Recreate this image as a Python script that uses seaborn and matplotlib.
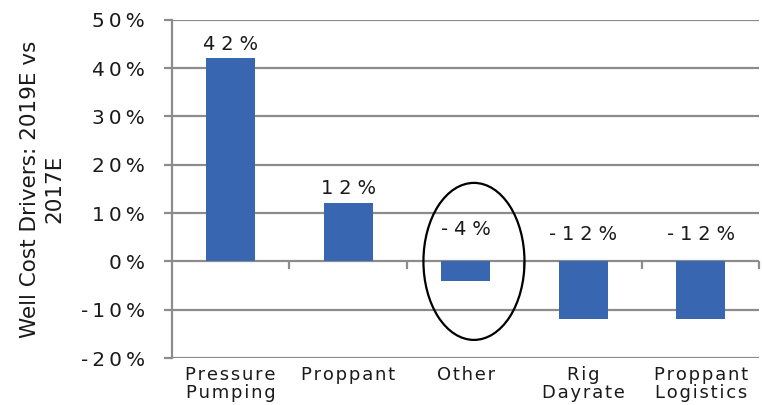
import matplotlib
matplotlib.use("Agg")
import matplotlib.pyplot as plt
from matplotlib.patches import Ellipse
from matplotlib.ticker import FuncFormatter
import seaborn as sns
import pandas as pd

categories = ["Pressure\nPumping", "Proppant", "Other", "Rig\nDayrate", "Proppant\nLogistics"]
changes = [42, 12, -4, -12, -12]
y_ticks = [-20, -10, 0, 10, 20, 30, 40, 50]

sns.set_theme(style="white")
plt.rcParams["font.family"] = ["DejaVu Sans"]

GRID = "#8c8c8c"
BAR = "#3966b1"
INK = "#1a1a1a"
HAIR = "\u200a"
THIN = "\u2009"
DPI = 100


def tracked(s, gap=HAIR):
    """Spread the characters of each line a little apart."""
    return "\n".join(gap.join(line) for line in s.split("\n"))


df = pd.DataFrame({"driver": [tracked(c) for c in categories], "change": changes})

fig = plt.figure(figsize=(7.62, 4.05), dpi=DPI)
ax = fig.add_axes([0.2257, 0.116, 0.771, 0.835])

sns.barplot(data=df, x="driver", y="change", color=BAR, saturation=1,
            width=0.415, linewidth=0, ax=ax, zorder=3)

ax.set_ylim(-20, 50)
ax.set_xlim(-0.5, len(categories) - 0.5)
ax.set_yticks(y_ticks)
ax.yaxis.set_major_formatter(FuncFormatter(lambda v, _: tracked(f"{v:.0f}%", THIN)))
ax.grid(axis="y", color=GRID, linewidth=1.6, zorder=0)
ax.set_axisbelow(True)

for side in ["top", "right", "bottom"]:
    ax.spines[side].set_visible(False)
ax.spines["left"].set_color(GRID)
ax.spines["left"].set_linewidth(1.6)

ax.tick_params(axis="y", which="major", direction="out", length=6, width=1.6,
               color=GRID, labelsize=14.5, labelcolor=INK, pad=13.5, left=True)
ax.tick_params(axis="x", length=0, labelsize=13, labelcolor=INK, pad=6)
for lbl in ax.get_xticklabels():
    lbl.set_verticalalignment("top")
    lbl.set_linespacing(0.95)

ax.set_xlabel("")
ax.set_ylabel("Well Cost Drivers: 2019E vs\n2017E", fontsize=15.5,
              color=INK, linespacing=1.25, va="center", ha="center")
ax.yaxis.set_label_coords(-0.221, 0.5)

# category separators on the zero line
zero_axis = ax.secondary_xaxis(20 / 70)
zero_axis.set_xticks([i + 0.5 for i in range(len(categories))])
zero_axis.tick_params(direction="out", length=6, width=1.6, color=GRID,
                      labelbottom=False, bottom=True)
zero_axis.spines["bottom"].set_visible(False)

# value labels: above positive bars, above the zero line for negative ones
for i, v in enumerate(changes):
    txt = tracked(f"{v:.0f}%", THIN + HAIR)
    y = v + 3 if v >= 0 else (6.5 if v > -10 else 5.5)
    ax.text(i, y, txt, ha="center", va="center", fontsize=14, color=INK, zorder=4)

# highlight ring around "Other"
ax.add_patch(Ellipse((2.07, 0.0), 0.86, 32.5, fill=False, edgecolor="black",
                     linewidth=1.6, zorder=5))

fig.savefig("out.png", dpi=DPI)
